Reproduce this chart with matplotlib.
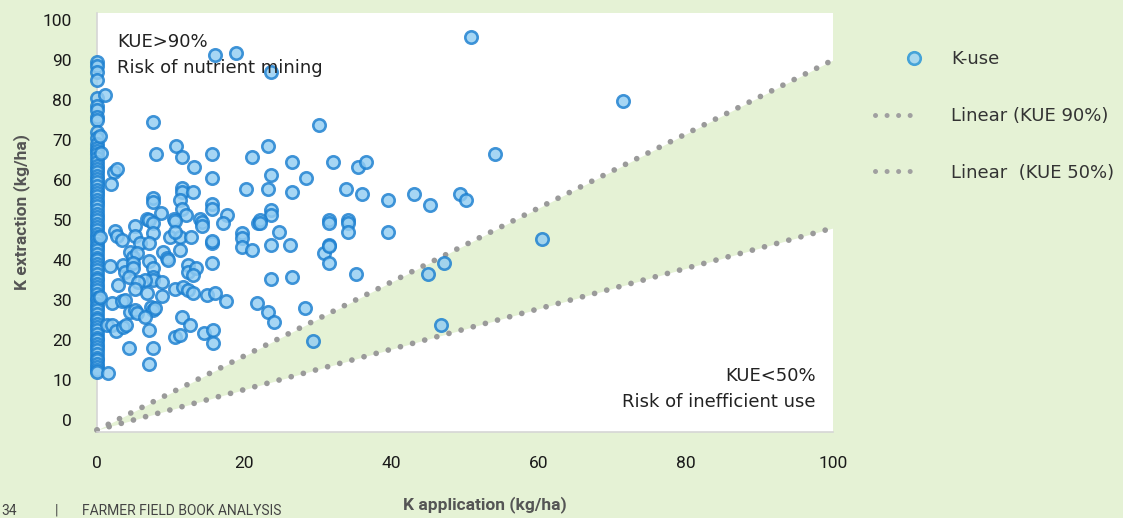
import numpy as np
import matplotlib
matplotlib.use("Agg")
import matplotlib.pyplot as plt
from matplotlib.lines import Line2D
from matplotlib.legend_handler import HandlerLine2D

# ---------------- data ----------------
# K application = 0 column
zero_y = [89.5, 88.5, 87, 85, 80.5, 78.5, 77.5, 75.8, 75, 72, 70.5, 69, 68, 67.2, 66.5,
          65.5, 64.5, 63.5, 62.8, 62, 61, 60.2, 59.5, 58.5, 57.6, 56.8, 56, 55, 54.2,
          53.5, 52.5, 51.6, 50.8, 50, 49, 48.2, 47.5, 46.5, 45.8, 45, 44, 43.2, 42.5,
          41.5, 40.6, 40, 39, 38.2, 37.5, 36.5, 35.6, 35, 34, 33.2, 32.5, 31.5, 30.6,
          30, 29, 28.2, 27.5, 26.5, 25.6, 25, 24, 23.2, 22.5, 21.5, 20.6, 20, 19,
          18.2, 17.5, 16.5, 15.6, 15, 14, 13.2, 12.5, 12]

other_x = [0.4, 0.6, 0.4, 0.4, 1.1, 1.5, 16.0, 18.9, 7.65, 10.8, 8.0, 11.6, 15.6, 21.0,
           13.2, 15.6, 2.3, 2.7, 1.9, 20.3, 7.65, 7.65, 11.6, 11.6, 13.1, 11.3, 15.6,
           15.6, 8.7, 11.6, 12.1, 17.6, 6.75, 10.5, 14.0, 21.9, 7.0, 7.65, 5.2, 10.6,
           14.2, 14.2, 17.1, 2.4, 2.7, 3.4, 5.2, 7.65, 9.9, 11.3, 12.8, 10.6, 5.8, 7.0,
           4.5, 4.9, 5.4, 9.0, 9.5, 9.7, 11.3, 15.6, 15.6, 19.7, 19.7, 19.7, 21.0, 1.8,
           3.6, 3.8, 4.9, 4.9, 4.4, 7.0, 7.65, 7.65, 7.65, 8.8, 6.5, 5.6, 12.4, 12.4,
           13.5, 13.1, 15.6, 2.9, 5.2, 6.75, 8.8, 10.6, 11.7, 12.4, 13.1, 14.9, 16.0,
           17.5, 21.8, 2.0, 3.4, 3.8, 4.5, 5.2, 5.4, 7.4, 7.65, 7.9, 6.5, 11.6, 12.7,
           1.3, 2.0, 2.6, 3.6, 4.0, 7.0, 10.6, 11.3, 14.5, 15.7, 15.7, 4.4, 7.65, 7.0,
           23.6, 30.2, 23.3, 26.5, 32.0, 35.5, 36.6, 23.6, 28.4, 23.3, 26.5, 33.8,
           36.0, 39.6, 43.1, 23.6, 23.6, 22.1, 31.5, 34.1, 22.1, 24.7, 31.5, 34.1,
           34.1, 39.6, 23.6, 26.2, 30.8, 31.5, 31.5, 31.5, 35.2, 23.6, 26.5, 23.3,
           24.0, 28.3, 29.4, 50.8, 71.4, 54.1, 45.3, 49.3, 50.1, 60.5, 47.1, 45.0, 46.8]
other_y = [71.0, 66.7, 45.8, 30.8, 81.2, 11.8, 91.2, 91.8, 74.4, 68.5, 66.4, 65.8, 66.4,
           65.8, 63.2, 60.4, 62.1, 62.7, 59.0, 57.8, 55.4, 54.6, 57.9, 57.1, 57.1, 55.0,
           53.9, 52.7, 51.8, 52.7, 51.2, 51.2, 50.2, 50.2, 50.2, 49.2, 50.0, 49.2, 48.5,
           49.8, 49.6, 48.5, 49.2, 47.3, 46.0, 45.0, 46.0, 46.7, 45.8, 45.8, 45.8, 47.1,
           44.2, 44.3, 42.1, 40.8, 41.7, 42.1, 40.4, 40.0, 42.5, 44.2, 44.8, 46.7, 45.4,
           43.3, 42.5, 38.5, 38.8, 37.1, 39.2, 37.9, 35.8, 39.8, 37.9, 35.8, 35.0, 34.6,
           35.0, 34.6, 38.8, 37.1, 37.9, 36.2, 39.2, 33.8, 32.7, 31.7, 31.0, 32.7, 33.2,
           32.5, 31.7, 31.2, 31.8, 29.8, 29.2, 29.2, 29.8, 30.0, 27.1, 27.5, 26.7, 28.3,
           27.5, 27.9, 25.8, 25.8, 23.8, 23.8, 23.8, 22.3, 23.3, 23.8, 22.5, 20.7, 21.2,
           21.8, 22.5, 19.2, 17.9, 17.9, 13.9,
           87.1, 73.8, 68.5, 64.4, 64.4, 63.2, 64.4, 61.2, 60.4, 57.8, 57.1, 57.8,
           56.5, 55.0, 56.5, 52.5, 51.2, 50.0, 50.0, 50.0, 49.2, 47.1, 49.2, 49.2,
           47.1, 47.1, 43.8, 43.8, 41.8, 43.8, 43.5, 39.2, 36.5, 35.2, 35.8, 27.1,
           24.6, 27.9, 19.8, 95.8, 79.8, 66.5, 53.8, 56.5, 55.0, 45.2, 39.2, 36.4, 23.8]

kue90_x = [0, 100]
kue90_y = [-2.5, 90]
kue50_x = [0, 100]
kue50_y = [-2.5, 48]

x_ticks = [0, 20, 40, 60, 80, 100]
y_ticks = [0, 10, 20, 30, 40, 50, 60, 70, 80, 90, 100]

# ---------------- style ----------------
BG = "#e5f2d5"
FACE = "#93cdf2"
EDGE = "#1b7fd0"
DOT = "#9a9a9a"
W, H = 1123, 518

fig = plt.figure(figsize=(W / 100, H / 100), dpi=100, facecolor=BG)
ax = fig.add_axes([97 / W, 1 - 432 / H, (833 - 97) / W, (432 - 13) / H])
ax.set_facecolor("white")

ax.set_xlim(0, 100)
ax.set_ylim(-3, 101.75)

# band between the two lines
ax.fill_between(np.array(kue90_x, dtype=float), kue50_y, kue90_y,
                color=BG, lw=0, zorder=1)

dot_style = dict(color=DOT, lw=4.1, linestyle=(0, (0.01, 2.2)),
                 dash_capstyle="round", zorder=2)
ax.plot(kue90_x, kue90_y, clip_on=False, **dot_style)
ax.plot(kue50_x, kue50_y, clip_on=False, **dot_style)

all_x = [0.0] * len(zero_y) + other_x
all_y = zero_y + other_y
ax.scatter(all_x, all_y, s=80, facecolor=FACE, edgecolor=EDGE, linewidths=1.9,
           alpha=0.82, zorder=3, clip_on=False)

# axes styling
for side in ["top", "right"]:
    ax.spines[side].set_visible(False)
for side in ["left", "bottom"]:
    ax.spines[side].set_color("#d6d6d6")
    ax.spines[side].set_linewidth(1.2)
ax.spines["left"].set_zorder(0.5)

tick_font = dict(family=["Roboto", "DejaVu Sans"], size=12.5, color="#1a1a1a")
ax.set_xticks(x_ticks)
ax.set_yticks(y_ticks)
ax.set_xticklabels([str(v) for v in x_ticks], **tick_font)
ax.set_yticklabels([str(v) for v in y_ticks], **tick_font)
ax.tick_params(axis="both", length=0)
ax.tick_params(axis="x", pad=17)
ax.tick_params(axis="y", pad=18)

label_font = dict(family=["Roboto", "DejaVu Sans"],
                  size=12.5, weight="bold", color="#555555")
fig.text(22 / W, 1 - 212 / H, "K extraction (kg/ha)", rotation=90,
         ha="center", va="center", **label_font)
fig.text(485 / W, 1 - 505 / H, "K application (kg/ha)",
         ha="center", va="center", **label_font)

ann_font = dict(family=["DejaVu Sans"], size=13, color="#222222")
x_left = (117 - 97) / 7.36
x_right = (816 - 97) / 7.36
ax.text(x_left, (420 - 42) / 4, "KUE>90%", ha="left", va="center", zorder=4, **ann_font)
ax.text(x_left, (420 - 68) / 4, "Risk of nutrient mining",
        ha="left", va="center", zorder=4, **ann_font)
ax.text(x_right, (420 - 376) / 4, "KUE<50%", ha="right", va="center",
        zorder=4, **ann_font)
ax.text(x_right, (420 - 402) / 4, "Risk of inefficient use", ha="right",
        va="center", zorder=4, **ann_font)


# legend
class RightMarkerHandler(HandlerLine2D):
    def get_xdata(self, legend, xdescent, ydescent, width, height, fontsize):
        a = -xdescent + width * 0.86
        b = -xdescent + width
        return np.array([a, b]), np.array([(a + b) / 2])


kuse = Line2D([], [], linestyle="none", marker="o", markersize=9,
              markerfacecolor="#a9d8ee", markeredgecolor="#45a3d8",
              markeredgewidth=1.9, label="K-use")
leg_style = dict(color="#a0a0a0", lw=3.6, linestyle=(0, (0.01, 2.3)),
                 dash_capstyle="round")
leg_l90 = Line2D([], [], label="Linear (KUE 90%)", **leg_style)
leg_l50 = Line2D([], [], label="Linear  (KUE 50%)", **leg_style)
leg = fig.legend(handles=[kuse, leg_l90, leg_l50], loc="upper left",
                 bbox_to_anchor=(875 / W, 1 - 50 / H), frameon=False,
                 prop=dict(family=["DejaVu Sans"], size=13),
                 labelcolor="#333333", handlelength=2.35, handletextpad=1.85,
                 labelspacing=2.15, borderpad=0, borderaxespad=0,
                 handler_map={kuse: RightMarkerHandler(numpoints=1)})

# footer
foot = dict(family=["Roboto", "DejaVu Sans"], size=10,
            color="#444444", va="center", ha="left")
fig.text(1 / W, 1 - 511 / H, "34", **foot)
fig.text(55 / W, 1 - 511 / H, "|", **foot)
fig.text(82 / W, 1 - 511 / H, "FARMER FIELD BOOK ANALYSIS", **foot)

fig.savefig("out.png", dpi=100, facecolor=BG)
